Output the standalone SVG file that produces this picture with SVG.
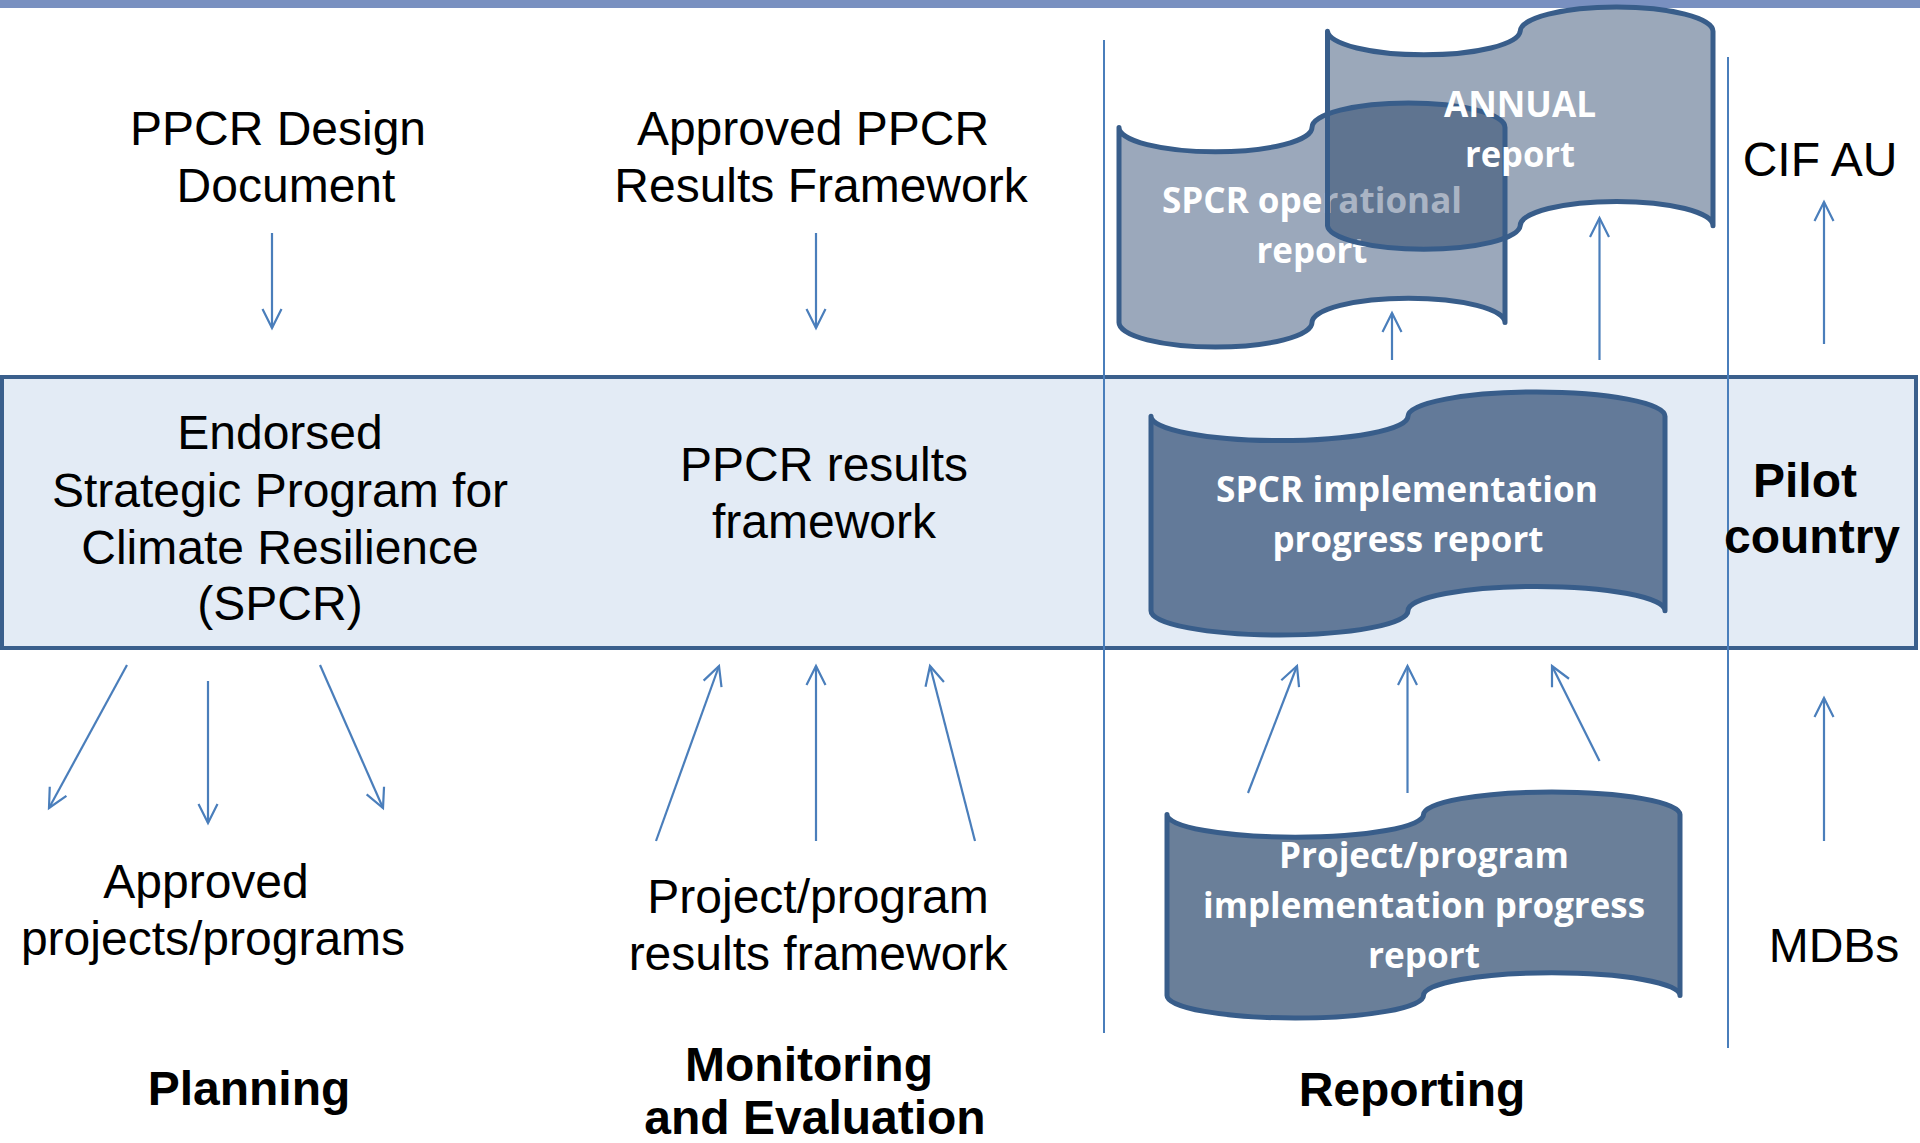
<svg xmlns="http://www.w3.org/2000/svg" xmlns:xlink="http://www.w3.org/1999/xlink" width="1920" height="1143" viewBox="0 0 1920 1143">
  <style>
    .lbl { font-family: "Liberation Sans", Arial, sans-serif; font-size: 48px; fill: #000; text-anchor: middle; }
    .hd { font-weight: bold; }
    .wt { font-family: "Open Sans", "Noto Sans", sans-serif; font-weight: bold; font-size: 35px; fill: #fff; text-anchor: middle; }
    .wt-dim { fill: #aab4c4; }
    .conn line { stroke: #4a7ebb; stroke-width: 2.2; fill: none; marker-end: url(#open); }
    .divider { stroke: #4a7ebb; stroke-width: 2; }
    .tape-line { fill: none; stroke: #385d8a; stroke-width: 5; stroke-linejoin: round; }
  </style>
  <defs>
    <marker id="open" markerUnits="userSpaceOnUse" markerWidth="40" markerHeight="40" refX="0" refY="0" orient="auto" overflow="visible">
      <path d="M-19,-9.5 L0,0 L-19,9.5" fill="none" stroke="#4a7ebb" stroke-width="2.2" stroke-linejoin="miter"/>
    </marker>
    <!-- punched-tape outlines -->
    <path id="tapeOp" d="M1119,127.4 A96.5,24.4 0 0 0 1312,127.4 A96.5,24.4 0 0 1 1505,127.4 L1505,322.6 A96.5,24.4 0 0 0 1312,322.6 A96.5,24.4 0 0 1 1119,322.6 Z"/>
    <path id="tapeAnn" d="M1327.5,31.3 A96.4,24.3 0 0 0 1520.2,31.3 A96.4,24.3 0 0 1 1713,31.3 L1713,225.7 A96.4,24.3 0 0 0 1520.2,225.7 A96.4,24.3 0 0 1 1327.5,225.7 Z"/>
    <path id="tapeImpl" d="M1151,416.3 A128.5,24.3 0 0 0 1408,416.3 A128.5,24.3 0 0 1 1665,416.3 L1665,610.7 A128.5,24.3 0 0 0 1408,610.7 A128.5,24.3 0 0 1 1151,610.7 Z"/>
    <path id="tapeProj" d="M1167,814.6 A128.25,22.6 0 0 0 1423.5,814.6 A128.25,22.6 0 0 1 1680,814.6 L1680,995.4 A128.25,22.6 0 0 0 1423.5,995.4 A128.25,22.6 0 0 1 1167,995.4 Z"/>
    <clipPath id="clipOp"><use xlink:href="#tapeOp"/></clipPath>
    <clipPath id="clipAnn"><use xlink:href="#tapeAnn"/></clipPath>
  </defs>

  <rect width="1920" height="1143" fill="#ffffff"/>
  <!-- top rule -->
  <rect x="0" y="0" width="1920" height="8" fill="#7990c0"/>

  <!-- country-level band -->
  <rect id="band" x="2" y="377" width="1914" height="271" fill="#e3ebf5" stroke="#3a5f8c" stroke-width="4"/>

  <!-- column dividers -->
  <line class="divider" x1="1104" y1="40" x2="1104" y2="1033"/>
  <line class="divider" x1="1728" y1="57" x2="1728" y2="1048"/>

  <!-- Planning column -->
  <g id="ppcr-design">
    <text class="lbl" x="278" y="145">PPCR Design</text>
    <text class="lbl" x="286" y="202">Document</text>
  </g>
  <g id="spcr">
    <text class="lbl" x="280" y="449">Endorsed</text>
    <text class="lbl" x="280" y="507">Strategic Program for</text>
    <text class="lbl" x="280" y="564">Climate Resilience</text>
    <text class="lbl" x="280" y="620">(SPCR)</text>
  </g>
  <g id="approved-projects">
    <text class="lbl" x="206" y="898">Approved</text>
    <text class="lbl" x="213" y="955">projects/programs</text>
  </g>
  <g id="planning">
    <text class="lbl hd" x="249" y="1105">Planning</text>
  </g>

  <!-- Monitoring and Evaluation column -->
  <g id="approved-rf">
    <text class="lbl" x="813" y="145">Approved PPCR</text>
    <text class="lbl" x="821" y="202">Results Framework</text>
  </g>
  <g id="ppcr-rf">
    <text class="lbl" x="824" y="481">PPCR results</text>
    <text class="lbl" x="824" y="538">framework</text>
  </g>
  <g id="project-rf">
    <text class="lbl" x="818" y="913">Project/program</text>
    <text class="lbl" x="818" y="970">results framework</text>
  </g>
  <g id="monitoring">
    <text class="lbl hd" x="809" y="1081">Monitoring</text>
    <text class="lbl hd" x="815" y="1134">and Evaluation</text>
  </g>

  <!-- Reporting column -->
  <g id="reports-top">
    <use xlink:href="#tapeOp" fill="#9ba8bb"/>
    <text class="wt" x="1312" y="213" textLength="300" lengthAdjust="spacingAndGlyphs">SPCR operational</text>
    <text class="wt" x="1312" y="263" textLength="111" lengthAdjust="spacingAndGlyphs">report</text>
    <use xlink:href="#tapeAnn" fill="#9ba8ba"/>
    <use xlink:href="#tapeAnn" fill="#5f7490" clip-path="url(#clipOp)"/>
    <g clip-path="url(#clipAnn)">
      <text class="wt wt-dim" x="1312" y="213" textLength="300" lengthAdjust="spacingAndGlyphs">SPCR operational</text>
      <text class="wt wt-dim" x="1312" y="263" textLength="111" lengthAdjust="spacingAndGlyphs">report</text>
    </g>
    <use xlink:href="#tapeOp" class="tape-line"/>
    <use xlink:href="#tapeAnn" class="tape-line"/>
    <text class="wt" x="1520" y="117" textLength="152" lengthAdjust="spacingAndGlyphs">ANNUAL</text>
    <text class="wt" x="1520" y="167" textLength="110" lengthAdjust="spacingAndGlyphs">report</text>
  </g>
  <g id="spcr-impl">
    <use xlink:href="#tapeImpl" fill="#637a99"/>
    <use xlink:href="#tapeImpl" class="tape-line"/>
    <text class="wt" x="1407" y="502" textLength="382" lengthAdjust="spacingAndGlyphs">SPCR implementation</text>
    <text class="wt" x="1408" y="552" textLength="271" lengthAdjust="spacingAndGlyphs">progress report</text>
  </g>
  <g id="project-impl">
    <use xlink:href="#tapeProj" fill="#6a7f99"/>
    <use xlink:href="#tapeProj" class="tape-line"/>
    <text class="wt" x="1424" y="868" textLength="290" lengthAdjust="spacingAndGlyphs">Project/program</text>
    <text class="wt" x="1424" y="918" textLength="442" lengthAdjust="spacingAndGlyphs">implementation progress</text>
    <text class="wt" x="1424" y="968" textLength="112" lengthAdjust="spacingAndGlyphs">report</text>
  </g>
  <g id="reporting">
    <text class="lbl hd" x="1412" y="1106">Reporting</text>
  </g>

  <!-- Actor column -->
  <g id="cif-au">
    <text class="lbl" x="1820" y="176">CIF AU</text>
  </g>
  <g id="pilot-country">
    <text class="lbl hd" x="1805" y="497">Pilot</text>
    <text class="lbl hd" x="1812" y="553">country</text>
  </g>
  <g id="mdbs">
    <text class="lbl" x="1834" y="962">MDBs</text>
  </g>

  <!-- connectors -->
  <g id="connectors" class="conn">
    <line x1="272" y1="233" x2="272" y2="328"/>
    <line x1="816" y1="233" x2="816" y2="328"/>
    <line x1="127" y1="665" x2="49" y2="808"/>
    <line x1="208" y1="681" x2="208" y2="823"/>
    <line x1="320" y1="665" x2="383" y2="808"/>
    <line x1="656" y1="841" x2="719" y2="666"/>
    <line x1="816" y1="841" x2="816" y2="666"/>
    <line x1="975" y1="841" x2="930" y2="666"/>
    <line x1="1248" y1="793" x2="1297" y2="666"/>
    <line x1="1407.5" y1="793" x2="1407.5" y2="666"/>
    <line x1="1599.5" y1="761" x2="1552" y2="666"/>
    <line x1="1824" y1="841" x2="1824" y2="698"/>
    <line x1="1392" y1="360" x2="1392" y2="313"/>
    <line x1="1599.5" y1="360" x2="1599.5" y2="218"/>
    <line x1="1824" y1="344" x2="1824" y2="202"/>
  </g>
</svg>
